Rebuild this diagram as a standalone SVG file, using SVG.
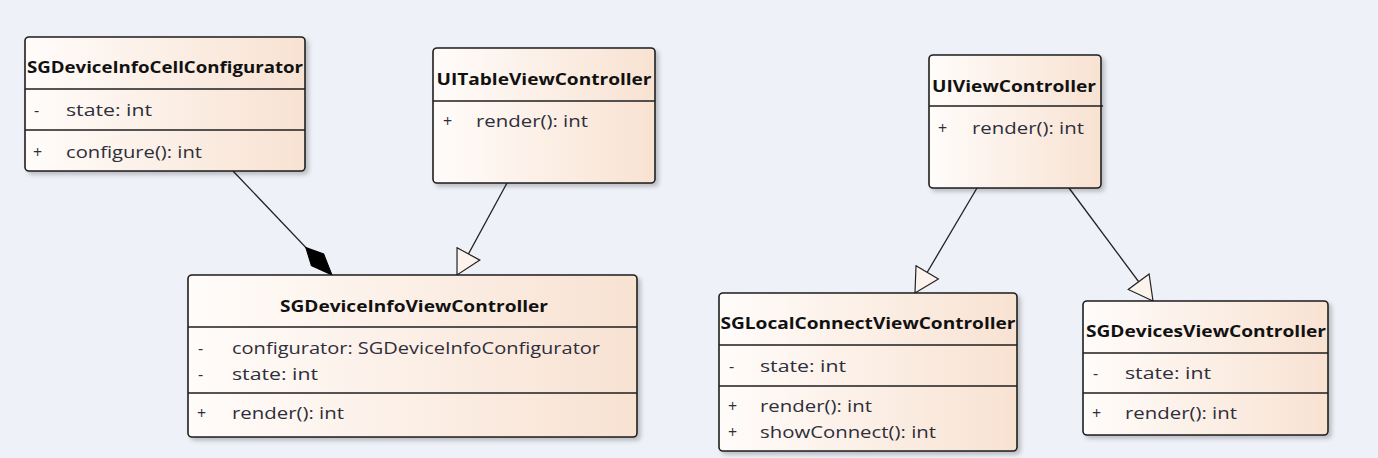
<svg xmlns="http://www.w3.org/2000/svg" width="1378" height="458" viewBox="0 0 1378 458">
<defs>
<linearGradient id="fill" x1="0" y1="0" x2="1" y2="0">
<stop offset="0" stop-color="#FFFCFA"/>
<stop offset="1" stop-color="#F8E2D2"/>
</linearGradient>
<filter id="sh" x="-5%" y="-5%" width="115%" height="120%">
<feDropShadow dx="3" dy="3" stdDeviation="2" flood-color="#000" flood-opacity="0.22"/>
</filter>
<marker id="gen" viewBox="0 0 26 28" refX="25" refY="14" markerWidth="26" markerHeight="28" markerUnits="userSpaceOnUse" orient="auto">
<path d="M1,1 L25,14 L1,27 Z" fill="#FCF4EC" stroke="#222" stroke-width="1.2"/>
</marker>
<marker id="comp" viewBox="0 0 40 20" refX="39" refY="10" markerWidth="40" markerHeight="20" markerUnits="userSpaceOnUse" orient="auto">
<path d="M1,10 L18,1.5 L39,10 L18,18.5 Z" fill="#000" stroke="#000" stroke-width="1"/>
</marker>
</defs>
<style>
.box{fill:url(#fill);stroke:#1e1e1e;stroke-width:1.6;filter:url(#sh)}
.sep{stroke:#1e1e1e;stroke-width:1.6}
.title{font-family:"Open Sans","Liberation Sans",sans-serif;font-weight:bold;font-size:16px;fill:#111;text-anchor:middle}
.txt{font-family:"Open Sans","Liberation Sans",sans-serif;font-size:16px;fill:#2e2e3a}
.conn{stroke:#222;stroke-width:1.3;fill:none}
</style>
<rect x="0" y="0" width="1378" height="458" fill="#EEF1F8"/>

<g id="connectors">
<line class="conn" x1="233" y1="171" x2="332" y2="275" marker-end="url(#comp)"/>
<line class="conn" x1="507" y1="183" x2="457" y2="275" marker-end="url(#gen)"/>
<line class="conn" x1="977" y1="188" x2="915" y2="293" marker-end="url(#gen)"/>
<line class="conn" x1="1069" y1="188" x2="1153" y2="301" marker-end="url(#gen)"/>
</g>

<g id="SGDeviceInfoCellConfigurator">
<rect class="box" x="25" y="37" width="280" height="134" rx="4"/>
<line class="sep" x1="25" y1="89" x2="305" y2="89"/>
<line class="sep" x1="25" y1="130" x2="305" y2="130"/>
<text class="title" x="165" y="73" textLength="276" lengthAdjust="spacingAndGlyphs">SGDeviceInfoCellConfigurator</text>
<text class="txt" x="34" y="116">-</text>
<text class="txt" x="66" y="116" textLength="86" lengthAdjust="spacingAndGlyphs">state: int</text>
<text class="txt" x="33" y="158">+</text>
<text class="txt" x="66" y="158" textLength="136" lengthAdjust="spacingAndGlyphs">configure(): int</text>
</g>

<g id="UITableViewController">
<rect class="box" x="433" y="48" width="222" height="135" rx="4"/>
<line class="sep" x1="433" y1="101" x2="655" y2="101"/>
<text class="title" x="544" y="85" textLength="215" lengthAdjust="spacingAndGlyphs">UITableViewController</text>
<text class="txt" x="443" y="127">+</text>
<text class="txt" x="476" y="127" textLength="112" lengthAdjust="spacingAndGlyphs">render(): int</text>
</g>

<g id="SGDeviceInfoViewController">
<rect class="box" x="188" y="275" width="449" height="162" rx="4"/>
<line class="sep" x1="188" y1="327" x2="637" y2="327"/>
<line class="sep" x1="188" y1="393" x2="637" y2="393"/>
<text class="title" x="414" y="312" textLength="268" lengthAdjust="spacingAndGlyphs">SGDeviceInfoViewController</text>
<text class="txt" x="198" y="354">-</text>
<text class="txt" x="232" y="354" textLength="368" lengthAdjust="spacingAndGlyphs">configurator: SGDeviceInfoConfigurator</text>
<text class="txt" x="198" y="380">-</text>
<text class="txt" x="232" y="380" textLength="86" lengthAdjust="spacingAndGlyphs">state: int</text>
<text class="txt" x="197" y="419">+</text>
<text class="txt" x="232" y="419" textLength="112" lengthAdjust="spacingAndGlyphs">render(): int</text>
</g>

<g id="UIViewController">
<rect class="box" x="929" y="55" width="172" height="133" rx="4"/>
<line class="sep" x1="929" y1="106" x2="1103" y2="106"/>
<text class="title" x="1014" y="92" textLength="164" lengthAdjust="spacingAndGlyphs">UIViewController</text>
<text class="txt" x="938" y="134">+</text>
<text class="txt" x="972" y="134" textLength="112" lengthAdjust="spacingAndGlyphs">render(): int</text>
</g>

<g id="SGLocalConnectViewController">
<rect class="box" x="719" y="293" width="298" height="158" rx="4"/>
<line class="sep" x1="719" y1="345" x2="1017" y2="345"/>
<line class="sep" x1="719" y1="386" x2="1017" y2="386"/>
<text class="title" x="868" y="329" textLength="295" lengthAdjust="spacingAndGlyphs">SGLocalConnectViewController</text>
<text class="txt" x="729" y="372">-</text>
<text class="txt" x="760" y="372" textLength="86" lengthAdjust="spacingAndGlyphs">state: int</text>
<text class="txt" x="728" y="412">+</text>
<text class="txt" x="760" y="412" textLength="112" lengthAdjust="spacingAndGlyphs">render(): int</text>
<text class="txt" x="728" y="438">+</text>
<text class="txt" x="760" y="438" textLength="176" lengthAdjust="spacingAndGlyphs">showConnect(): int</text>
</g>

<g id="SGDevicesViewController">
<rect class="box" x="1083" y="301" width="245" height="134" rx="4"/>
<line class="sep" x1="1083" y1="353" x2="1328" y2="353"/>
<line class="sep" x1="1083" y1="393" x2="1328" y2="393"/>
<text class="title" x="1206" y="337" textLength="240" lengthAdjust="spacingAndGlyphs">SGDevicesViewController</text>
<text class="txt" x="1093" y="379">-</text>
<text class="txt" x="1125" y="379" textLength="86" lengthAdjust="spacingAndGlyphs">state: int</text>
<text class="txt" x="1092" y="419">+</text>
<text class="txt" x="1125" y="419" textLength="112" lengthAdjust="spacingAndGlyphs">render(): int</text>
</g>
</svg>
